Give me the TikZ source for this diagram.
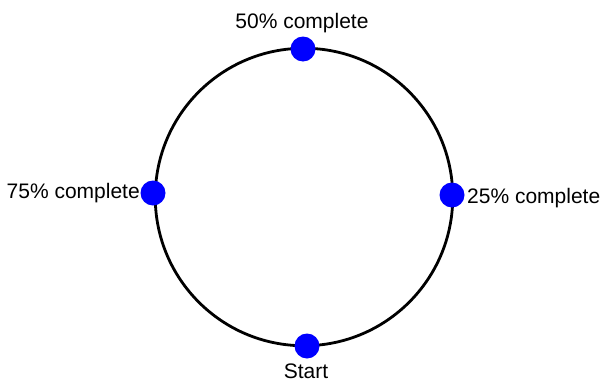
\documentclass[tikz,border=0pt]{standalone}
\usepackage{fontspec}
\setmainfont{Liberation Sans}
\begin{document}
\begin{tikzpicture}[x=1pt,y=-1pt,
  ring/.style={draw=black,line width=2.8pt},
  dot/.style={circle,fill=blue,minimum size=25pt,inner sep=0pt},
  lbl/.style={font=\fontsize{21}{25}\selectfont,inner sep=0pt}]
\useasboundingbox (0,0) rectangle (603,383);
\node[ring,circle,minimum size=297.5pt,inner sep=0pt] (ring) at (304,197) {};
\node[dot] (top) at (303,49) {};
\node[dot] (right) at (452,195) {};
\node[dot] (left) at (153,193) {};
\node[dot] (bottom) at (307,346) {};
\node[lbl,anchor=base] (ltop) at (302,28) {50\% complete};
\node[lbl,anchor=base west] (lright) at (467,203) {25\% complete};
\node[lbl,anchor=base east] (lleft) at (140,198) {75\% complete};
\node[lbl,anchor=base] (lbottom) at (306,378) {Start};
\end{tikzpicture}
\end{document}
